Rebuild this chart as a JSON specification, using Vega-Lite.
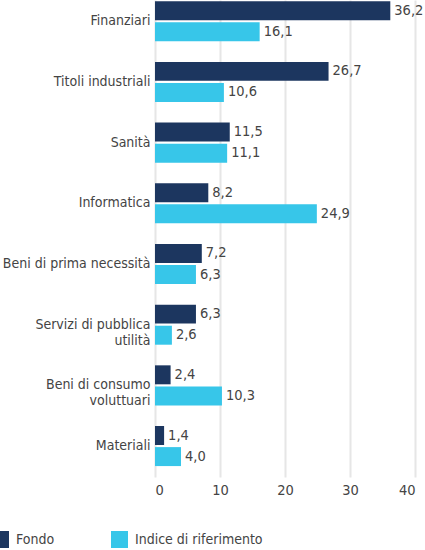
{
  "$schema": "https://vega.github.io/schema/vega-lite/v6.json",
  "width": 260,
  "height": 477,
  "autosize": {"type": "none"},
  "padding": {"left": 155, "top": 0, "right": 10, "bottom": 73},
  "background": "white",
  "config": {
    "locale": {"number": {"decimal": ",", "thousands": ".", "grouping": [3], "currency": ["€", ""]}},
    "font": "DejaVu Sans Condensed, DejaVu Sans, sans-serif",
    "view": {"stroke": null}
  },
  "data": {
    "values": [
      {"settore": "Finanziari", "serie": "Fondo", "valore": 36.2},
      {"settore": "Finanziari", "serie": "Indice di riferimento", "valore": 16.1},
      {"settore": "Titoli industriali", "serie": "Fondo", "valore": 26.7},
      {"settore": "Titoli industriali", "serie": "Indice di riferimento", "valore": 10.6},
      {"settore": "Sanità", "serie": "Fondo", "valore": 11.5},
      {"settore": "Sanità", "serie": "Indice di riferimento", "valore": 11.1},
      {"settore": "Informatica", "serie": "Fondo", "valore": 8.2},
      {"settore": "Informatica", "serie": "Indice di riferimento", "valore": 24.9},
      {"settore": "Beni di prima necessità", "serie": "Fondo", "valore": 7.2},
      {"settore": "Beni di prima necessità", "serie": "Indice di riferimento", "valore": 6.3},
      {"settore": "Servizi di pubblica utilità", "serie": "Fondo", "valore": 6.3},
      {"settore": "Servizi di pubblica utilità", "serie": "Indice di riferimento", "valore": 2.6},
      {"settore": "Beni di consumo voluttuari", "serie": "Fondo", "valore": 2.4},
      {"settore": "Beni di consumo voluttuari", "serie": "Indice di riferimento", "valore": 10.3},
      {"settore": "Materiali", "serie": "Fondo", "valore": 1.4},
      {"settore": "Materiali", "serie": "Indice di riferimento", "valore": 4.0}
    ]
  },
  "encoding": {
    "y": {
      "field": "settore",
      "type": "nominal",
      "sort": null,
      "scale": {"paddingInner": 0.34, "paddingOuter": 0.1, "align": 0.1},
      "axis": {
        "title": null,
        "domain": false,
        "ticks": false,
        "labelFontSize": 14,
        "labelColor": "#444444",
        "labelPadding": 5,
        "labelLimit": 200,
        "labelLineHeight": 16,
        "labelExpr": "datum.value == 'Servizi di pubblica utilità' ? ['Servizi di pubblica', 'utilità'] : datum.value == 'Beni di consumo voluttuari' ? ['Beni di consumo', 'voluttuari'] : datum.value"
      }
    },
    "yOffset": {
      "field": "serie",
      "type": "nominal",
      "sort": ["Fondo", "Indice di riferimento"],
      "scale": {"paddingInner": 0.1, "paddingOuter": 0}
    },
    "x": {
      "field": "valore",
      "type": "quantitative",
      "scale": {"domain": [0, 40], "nice": false},
      "axis": {
        "title": null,
        "values": [0, 10, 20, 30, 40],
        "domain": false,
        "ticks": false,
        "grid": true,
        "gridColor": "#e6e6e6",
        "gridWidth": 2,
        "labelFontSize": 14.5,
        "labelColor": "#444444",
        "labelPadding": 6
      }
    }
  },
  "layer": [
    {
      "mark": {"type": "bar"},
      "encoding": {
        "color": {
          "field": "serie",
          "type": "nominal",
          "sort": ["Fondo", "Indice di riferimento"],
          "scale": {"range": ["#1c365f", "#37c6e9"]},
          "legend": {
            "title": null,
            "orient": "none",
            "legendX": -163,
            "legendY": 531,
            "direction": "horizontal",
            "symbolType": "square",
            "symbolSize": 289,
            "symbolStrokeWidth": 0,
            "labelFontSize": 14,
            "labelColor": "#444444",
            "labelOffset": 7,
            "labelLimit": 250,
            "columnPadding": 56
          }
        }
      }
    },
    {
      "mark": {"type": "text", "align": "left", "baseline": "middle", "dx": 4, "fontSize": 14.5, "color": "#444444"},
      "encoding": {
        "text": {"field": "valore", "type": "quantitative", "format": ".1f"}
      }
    }
  ]
}
